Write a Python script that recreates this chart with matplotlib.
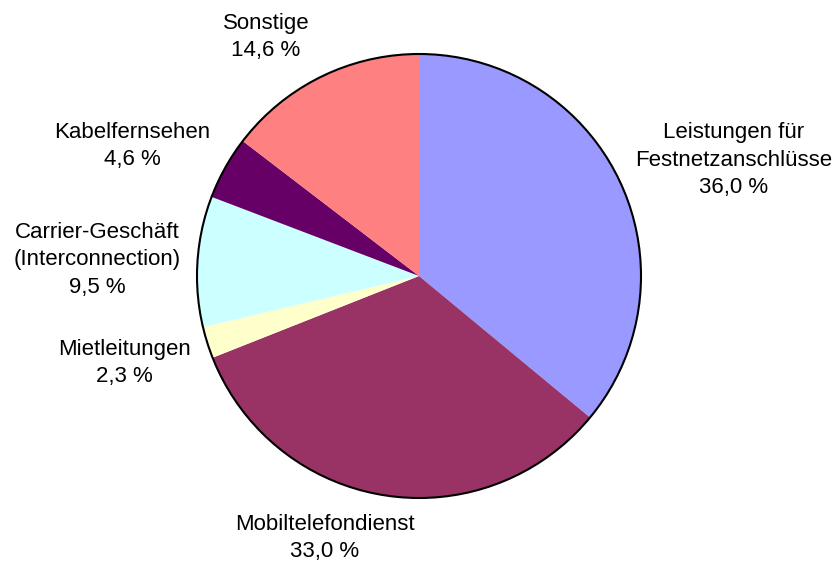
import matplotlib.pyplot as plt
from matplotlib.patches import Circle

plt.rcParams['font.family'] = ['Liberation Sans', 'DejaVu Sans']

categories = ['Leistungen für\nFestnetzanschlüsse', 'Mobiltelefondienst', 'Mietleitungen',
              'Carrier-Geschäft\n(Interconnection)', 'Kabelfernsehen', 'Sonstige']
shares = [36.0, 33.0, 2.3, 9.5, 4.6, 14.6]
colors = ['#9999FF', '#993366', '#FFFFCC', '#CCFFFF', '#660066', '#FF8080']

# label centres in pixels (x, y from top)
label_pos = [(734, 160), (325, 538), (124, 363), (97, 260), (132, 146), (266, 37)]

W, H = 839, 566
fig = plt.figure(figsize=(W / 100, H / 100), dpi=100)
ax = fig.add_axes([0, 0, 1, 1])

cx, cy, r = 419, H - 276, 222
ax.pie(shares, colors=colors, startangle=90, counterclock=False,
       center=(cx, cy), radius=r, frame=True,
       wedgeprops={'linewidth': 0})
ax.set_xlim(0, W)
ax.set_ylim(0, H)
ax.set_aspect('equal')
ax.axis('off')
ax.add_patch(Circle((cx, cy), r, fill=False, edgecolor='black', linewidth=1.5))

for name, val, (x, y) in zip(categories, shares, label_pos):
    txt = f"{name}\n{val:.1f} %".replace('.', ',')
    ax.text(x, H - y, txt, ha='center', va='center', fontsize=16,
            linespacing=1.42, color='black')

fig.savefig('out.png', dpi=100)
